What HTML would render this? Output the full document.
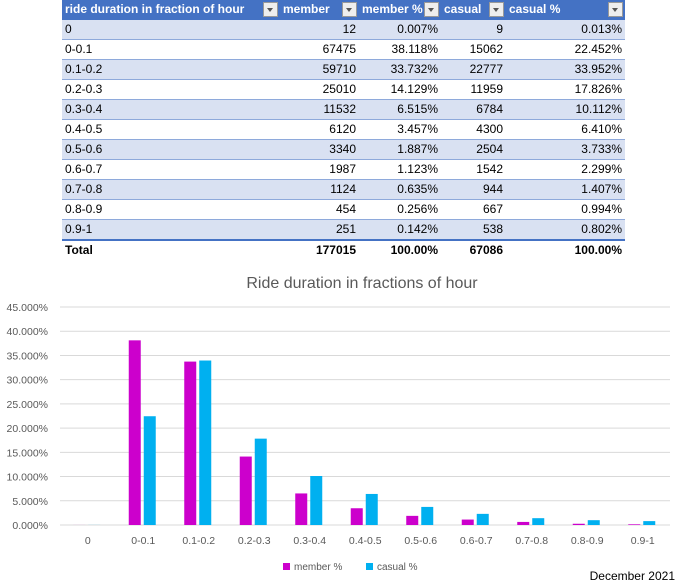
<!DOCTYPE html>
<html><head><meta charset="utf-8">
<style>
body{margin:0;width:679px;height:584px;background:#fff;font-family:"Liberation Sans",sans-serif;position:relative;overflow:hidden}
table{position:absolute;left:62px;top:0;border-collapse:collapse;font-size:12px;color:#000;table-layout:fixed;width:563px}
td{height:19px;padding:0 3px;border-bottom:1px solid #8EA9DB;white-space:nowrap;line-height:19px;overflow:hidden;position:relative}
tr.h td{background:#4472C4;color:#fff;font-weight:bold;border-bottom:1px solid #4472C4}
tr.b td{background:#D9E1F2}
tr.t td{font-weight:bold;border-top:2px solid #4472C4;border-bottom:none;height:18px}
td.n{text-align:right}
.dd{display:block;width:13px;height:13px;background:#eee;border:1px solid #999;position:absolute;right:2px;top:2px}
.dd:after{content:"";position:absolute;left:3px;top:5px;border-left:3.5px solid transparent;border-right:3.5px solid transparent;border-top:4px solid #555}
</style></head><body>
<table>
<colgroup><col style="width:218px"><col style="width:79px"><col style="width:82px"><col style="width:65px"><col style="width:119px"></colgroup>
<tr class="h"><td>ride duration in fraction of hour<span class="dd"></span></td><td>member<span class="dd"></span></td><td>member %<span class="dd"></span></td><td>casual<span class="dd"></span></td><td>casual %<span class="dd"></span></td></tr>
<tr class="b"><td>0</td><td class="n">12</td><td class="n">0.007%</td><td class="n">9</td><td class="n">0.013%</td></tr>
<tr><td>0-0.1</td><td class="n">67475</td><td class="n">38.118%</td><td class="n">15062</td><td class="n">22.452%</td></tr>
<tr class="b"><td>0.1-0.2</td><td class="n">59710</td><td class="n">33.732%</td><td class="n">22777</td><td class="n">33.952%</td></tr>
<tr><td>0.2-0.3</td><td class="n">25010</td><td class="n">14.129%</td><td class="n">11959</td><td class="n">17.826%</td></tr>
<tr class="b"><td>0.3-0.4</td><td class="n">11532</td><td class="n">6.515%</td><td class="n">6784</td><td class="n">10.112%</td></tr>
<tr><td>0.4-0.5</td><td class="n">6120</td><td class="n">3.457%</td><td class="n">4300</td><td class="n">6.410%</td></tr>
<tr class="b"><td>0.5-0.6</td><td class="n">3340</td><td class="n">1.887%</td><td class="n">2504</td><td class="n">3.733%</td></tr>
<tr><td>0.6-0.7</td><td class="n">1987</td><td class="n">1.123%</td><td class="n">1542</td><td class="n">2.299%</td></tr>
<tr class="b"><td>0.7-0.8</td><td class="n">1124</td><td class="n">0.635%</td><td class="n">944</td><td class="n">1.407%</td></tr>
<tr><td>0.8-0.9</td><td class="n">454</td><td class="n">0.256%</td><td class="n">667</td><td class="n">0.994%</td></tr>
<tr class="b"><td>0.9-1</td><td class="n">251</td><td class="n">0.142%</td><td class="n">538</td><td class="n">0.802%</td></tr>
<tr class="t"><td>Total</td><td class="n">177015</td><td class="n">100.00%</td><td class="n">67086</td><td class="n">100.00%</td></tr>
</table>
<svg id="chart" width="679" height="584" style="position:absolute;left:0;top:0" font-family="Liberation Sans, sans-serif">
<text x="362" y="288" text-anchor="middle" font-size="16" fill="#595959">Ride duration in fractions of hour</text>
<g id="grid"></g><g id="bars"></g><g id="labels"></g>
<rect x="283" y="563" width="7" height="7" fill="#CC00CC"/>
<text x="294" y="570" font-size="10" fill="#595959">member %</text>
<rect x="366" y="563" width="7" height="7" fill="#00B0F0"/>
<text x="377" y="570" font-size="10" fill="#595959">casual %</text>
<text x="675" y="580" text-anchor="end" font-size="12" fill="#000">December 2021</text>
</svg>
<script>
const categories=["0","0-0.1","0.1-0.2","0.2-0.3","0.3-0.4","0.4-0.5","0.5-0.6","0.6-0.7","0.7-0.8","0.8-0.9","0.9-1"];
const memberPct=[0.007,38.118,33.732,14.129,6.515,3.457,1.887,1.123,0.635,0.256,0.142];
const casualPct=[0.013,22.452,33.952,17.826,10.112,6.410,3.733,2.299,1.407,0.994,0.802];
const yTicks=[0,5,10,15,20,25,30,35,40,45];
const NS="http://www.w3.org/2000/svg";
const left=57,right=667.5,y0=525,y45=307;
const y=v=>y0-(v/45)*(y0-y45);
const band=(right-left)/categories.length;
const x=i=>left+band*(i+0.5);
function mk(t,a,p){const e=document.createElementNS(NS,t);for(const k in a)e.setAttribute(k,a[k]);document.getElementById(p).appendChild(e);return e;}
yTicks.forEach(t=>{
 const l=mk('line',{x1:60,x2:670,y1:y(t),y2:y(t),stroke:'#D9D9D9','stroke-width':1},'grid');
 
 
 const tx=mk('text',{x:48,y:y(t)+4,'text-anchor':'end','font-size':'10.5',fill:'#595959'},'labels');
 tx.textContent=t.toFixed(3)+'%';
 
 
});
categories.forEach((c,i)=>{
 const bw=12,g=3;
 const m=mk('rect',{x:x(i)-g/2-bw+2,y:y(memberPct[i]),width:bw,height:y0-y(memberPct[i]),fill:'#CC00CC'},'bars');
 
 
 const k=mk('rect',{x:x(i)+g/2+2,y:y(casualPct[i]),width:bw,height:y0-y(casualPct[i]),fill:'#00B0F0'},'bars');
 
 
 const tx=mk('text',{x:x(i)+3,y:544,'text-anchor':'middle','font-size':'10.5',fill:'#595959'},'labels');
 tx.textContent=c;
 
 
});
</script>
</body></html>
